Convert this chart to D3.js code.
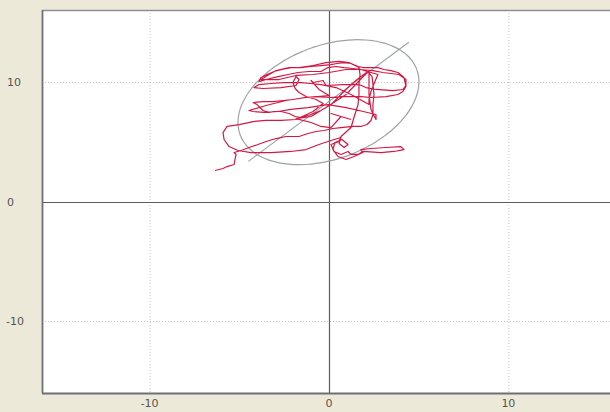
<!DOCTYPE html>
<html>
<head>
<meta charset="utf-8">
<script src="https://cdn.jsdelivr.net/npm/d3@7"></script>
<style>
  html, body { margin: 0; padding: 0; background: #ECE9D8; overflow: hidden; }
  svg { display: block; }
  text { font-family: "DejaVu Sans", "Liberation Sans", sans-serif; }
</style>
</head>
<body>
<svg id="chart" width="610" height="412"></svg>
<script>
// Axis ticks
const xTicks = [-10, 0, 10];
const yTicks = [-10, 0, 10];

// Trajectory (x, y)
const trackX = [-6.35,-5.91,-5.68,-5.29,-5.24,-5.18,-5.29,-4.90,-4.46,-3.96,-3.51,-2.95,-2.40,-1.67,-1.17,-0.72,-0.28,0.22,0.67,1.34,1.78,2.12,2.34,2.45,2.45,2.51,2.45,2.40,2.17,1.78,1.23,0.72,0.11,-0.45,-1.00,-1.56,-1.89,-2.23,-2.67,-3.06,-3.34,-3.68,-4.01,-4.23,-3.68,-3.12,-2.56,-2.01,-1.34,-0.72,0.11,0.67,1.23,1.78,2.34,3.18,3.84,4.12,4.29,4.23,4.18,3.84,3.45,3.06,2.73,2.34,1.95,1.62,1.23,0.84,0.45,0.11,-0.45,-1.00,-1.56,-2.12,-2.62,-3.06,-3.45,-3.79,-3.90,-3.51,-2.84,-2.28,-1.73,-1.11,-0.45,-0.06,0.39,0.84,1.34,1.78,2.12,2.34,2.73,2.56,2.34,2.23,2.23,1.23,0.39,-0.45,-1.00,-1.56,-2.51,-3.23,-3.90,-4.18,-3.68,-2.67,-1.84,-1.67,-1.84,-2.01,-1.89,-1.67,-1.28,-0.72,-0.33,-0.89,-1.84,-2.67,-3.51,-4.23,-5.01,-5.68,-5.91,-5.85,-5.57,-5.07,-4.35,-3.23,-2.12,-1.28,-0.56,0.11,0.67,0.56,0.84,1.06,0.72,0.33,0.22,0.50,0.95,1.39,1.89,1.78,2.34,3.18,4.01,4.18,3.62,2.90,1.89,
  1.62,1.23,1.06,0.67,0.28,0.11,0.56,0.67,1.23,1.39,1.62,1.67,1.67,1.73,1.67,1.11,0.56,-0.17,-0.89,-1.67,-2.23,-2.95,-3.34,-3.79,-2.79,-1.84,-0.89,0.00,0.95,1.67,2.45,3.01,3.90,4.29,4.29,4.12,3.57,2.62,2.06,1.67,0.78,-0.17,-0.33,-0.89,-1.00,-0.56,0.00,-1.28,-2.40,-3.51,-4.46,-4.23,-3.62,-2.84,-2.12,-1.17,-0.06,0.95,1.67,2.62,2.62,2.34,2.23,2.23,2.23,0.95,-0.17,-1.00,-1.84,-1.00,-0.45,0.11,0.67,0.11,1.23];
const trackY = [2.59,2.76,2.92,3.09,3.51,3.93,4.09,4.26,4.51,4.76,5.01,5.26,5.43,5.43,5.68,5.85,5.93,6.10,6.18,6.27,6.27,6.43,6.77,7.27,8.10,8.94,9.77,10.44,10.86,10.44,9.77,9.02,8.10,7.60,7.27,7.02,7.10,7.35,7.52,7.52,7.44,7.60,8.10,8.27,8.35,8.35,8.44,8.52,8.69,8.77,8.69,8.77,8.77,8.77,8.69,8.77,8.94,9.19,9.61,10.02,10.36,10.78,10.94,11.03,11.19,11.19,11.19,11.28,11.53,11.61,11.53,11.44,11.36,11.28,11.19,11.19,11.03,10.86,10.61,10.36,10.02,10.19,10.44,10.61,10.78,10.86,10.86,11.19,11.28,11.19,11.11,11.03,10.86,10.78,10.61,10.02,9.19,8.52,8.10,8.94,9.52,9.77,9.86,9.94,9.94,9.86,9.77,9.52,9.44,9.52,9.69,10.19,10.44,9.94,9.44,9.11,8.77,8.52,8.19,7.52,6.85,6.77,6.77,6.68,6.43,6.27,5.76,5.18,4.59,4.26,4.09,4.09,4.18,4.34,4.76,5.10,5.35,4.85,4.51,4.76,5.18,4.93,4.34,3.76,3.51,3.76,4.09,4.34,4.43,4.51,4.59,4.34,4.18,4.09,4.18,
  3.93,3.93,4.18,3.93,4.18,4.76,5.01,5.43,6.18,7.02,8.10,8.94,9.77,10.61,11.19,11.61,11.70,11.61,11.36,11.19,11.19,10.94,10.61,10.19,10.19,10.53,10.61,10.78,11.03,11.03,10.94,10.78,10.61,10.19,9.69,9.36,9.27,9.36,9.52,9.77,9.77,9.69,10.11,9.94,10.11,9.36,8.85,8.69,8.44,8.02,7.60,7.52,7.44,7.52,7.69,7.85,8.10,7.85,7.60,7.27,6.85,7.69,8.94,10.19,10.94,8.94,7.85,7.10,6.93,6.60,6.27,6.18,7.10,7.35,6.85];

// Spread ellipse: centre, semi-axes and rotation (degrees) in data units
const ellipseCenter = [-0.03, 8.3];
const ellipseRadii = [5.91, 4.21];
const ellipseAngle = 48;

// Trend line end points
const trendX = [-4.5, 4.45];
const trendY = [3.35, 13.3];

const svg = d3.select("#chart");
const padL = 42, padT = 10, padB = 393, padR = 616;

const x = d3.scaleLinear().domain([-16, 16]).range([padL, padR]);
const y = d3.scaleLinear().domain([-16, 16]).range([padB, padT]);

// plot background
svg.append("rect")
  .attr("x", padL).attr("y", padT)
  .attr("width", 610 - padL).attr("height", padB - padT)
  .attr("fill", "#ffffff");

const plot = svg.append("g");

// dotted grid
plot.selectAll("line.gx").data(xTicks.filter(d => d !== 0)).join("line")
  .attr("x1", d => x(d) + 0.5).attr("x2", d => x(d) + 0.5)
  .attr("y1", padT).attr("y2", padB)
  .attr("stroke", "#c4c4c4").attr("stroke-width", 1).attr("stroke-dasharray", "1,2");
plot.selectAll("line.gy").data(yTicks.filter(d => d !== 0)).join("line")
  .attr("y1", d => Math.round(y(d)) + 0.5).attr("y2", d => Math.round(y(d)) + 0.5)
  .attr("x1", padL).attr("x2", 610)
  .attr("stroke", "#c4c4c4").attr("stroke-width", 1).attr("stroke-dasharray", "1,2");

// zero axes
plot.append("line")
  .attr("x1", x(0) + 0.5).attr("x2", x(0) + 0.5).attr("y1", padT).attr("y2", padB)
  .attr("stroke", "#5a5e62").attr("stroke-width", 1.2);
plot.append("line")
  .attr("y1", Math.round(y(0)) + 0.5).attr("y2", Math.round(y(0)) + 0.5).attr("x1", padL).attr("x2", 610)
  .attr("stroke", "#5a5e62").attr("stroke-width", 1.2);

// ellipse
const rad = ellipseAngle * Math.PI / 180;
const ell = d3.range(0, 360, 3).map(t => {
  const a = t * Math.PI / 180;
  const ux = ellipseRadii[0] * Math.cos(a), uy = ellipseRadii[1] * Math.sin(a);
  return [ellipseCenter[0] + ux * Math.cos(rad) - uy * Math.sin(rad),
          ellipseCenter[1] + ux * Math.sin(rad) + uy * Math.cos(rad)];
});
const lineGen = d3.line().x(d => x(d[0])).y(d => y(d[1]));
plot.append("path")
  .attr("d", d3.line().curve(d3.curveCardinalClosed).x(d => x(d[0])).y(d => y(d[1]))(ell))
  .attr("fill", "none").attr("stroke", "#9ea3a8").attr("stroke-width", 1.2);

// trend line
plot.append("path")
  .attr("d", lineGen(trendX.map((v, i) => [v, trendY[i]])))
  .attr("fill", "none").attr("stroke", "#9ea3a8").attr("stroke-width", 1.1);

// trajectory
plot.append("path")
  .attr("d", lineGen(trackX.map((v, i) => [v, trackY[i]])))
  .attr("fill", "none").attr("stroke", "#d41843").attr("stroke-width", 1.2)
  .attr("stroke-linejoin", "round");

// frame
svg.append("line").attr("x1", padL).attr("x2", 610).attr("y1", padT + 0.5).attr("y2", padT + 0.5)
  .attr("stroke", "#8c9094").attr("stroke-width", 1.5);
svg.append("line").attr("x1", padL + 0.5).attr("x2", padL + 0.5).attr("y1", padT).attr("y2", padB)
  .attr("stroke", "#6c7074").attr("stroke-width", 1.8);
svg.append("line").attr("x1", padL).attr("x2", 610).attr("y1", padB + 0.5).attr("y2", padB + 0.5)
  .attr("stroke", "#6c7074").attr("stroke-width", 1.8);

// tick labels
svg.selectAll("text.xt").data(xTicks).join("text")
  .attr("x", d => x(d)).attr("y", 407)
  .attr("text-anchor", "middle").attr("font-size", 11).attr("fill", "#555")
  .text(d => d);
svg.selectAll("text.yt").data(yTicks).join("text")
  .attr("x", d => d < 0 ? 6 : 7).attr("y", d => y(d) + 4)
  .attr("text-anchor", "start").attr("font-size", 11).attr("fill", "#555")
  .text(d => d);
</script>
</body>
</html>
